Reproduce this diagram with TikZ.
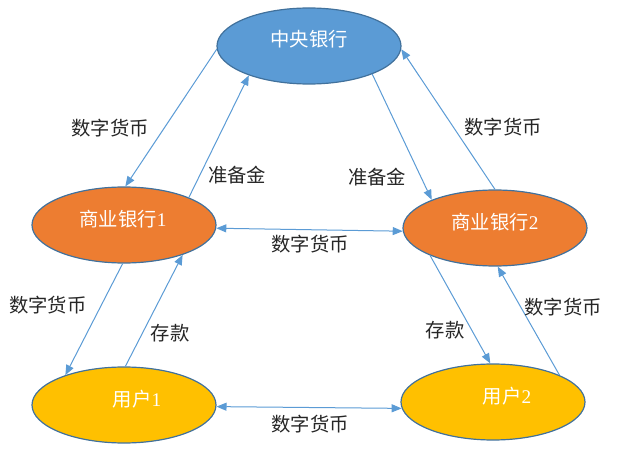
\documentclass[tikz,border=0pt]{standalone}
\usepackage{fontspec}
\setmainfont{Noto Sans CJK SC}
\newfontfamily\numfont{Liberation Serif}
\usepackage{xcolor}
\usepackage{tikz}
\usetikzlibrary{arrows.meta, shapes.geometric}

\definecolor{CentralBlue}{HTML}{5B9BD5}
\definecolor{BankOrange}{HTML}{ED7D31}
\definecolor{UserGold}{HTML}{FFC000}
\definecolor{RimBlue}{HTML}{41719C}
\definecolor{FlowBlue}{HTML}{5B9BD5}

\begin{document}
\begin{tikzpicture}[x=0.75pt, y=0.75pt,
	bank/.style={ellipse, draw=RimBlue, line width=0.9pt, minimum width=138pt, minimum height=57pt, inner sep=0pt},
	intext/.style={text=white, font=\fontsize{14.5}{17}\selectfont, inner sep=0pt},
	flowlabel/.style={text=black!85, font=\fontsize{14.5}{17}\selectfont, inner sep=0pt},
	flow/.style={draw=FlowBlue, line width=0.75pt, -{Triangle[length=7.5pt, width=6pt]}},
	twoway/.style={draw=FlowBlue, line width=0.75pt, {Triangle[length=7.5pt, width=6pt]}-{Triangle[length=7.5pt, width=6pt]}}]

	\useasboundingbox (0,0) rectangle (625,454);

	% ellipses
	\node[bank, fill=CentralBlue] (CB) at (309,408) {};
	\node[bank, fill=BankOrange] (B1) at (124,229) {};
	\node[bank, fill=BankOrange] (B2) at (495,226) {};
	\node[bank, fill=UserGold] (U1) at (124,49) {};
	\node[bank, fill=UserGold] (U2) at (493,52) {};

	\node[intext] (CBt) at (309,415) {中央银行};
	\node[intext] (B1t) at (123,235) {商业银行{\numfont 1}};
	\node[intext] (B2t) at (495,232) {商业银行{\numfont 2}};
	\node[intext] (U1t) at (137,55) {用户{\numfont 1}};
	\node[intext] (U2t) at (507,58) {用户{\numfont 2}};

	% central bank <-> commercial banks
	\draw[flow] (CB.182) -- (B1.88);
	\draw[flow] (B1.23) -- (CB.206);
	\draw[flow] (CB.336) -- (B2.156);
	\draw[flow] (B2.90) -- (CB.358);
	\draw[twoway] (B1.-2) -- (B2.182);

	% commercial banks <-> users
	\draw[flow] (B1.268) -- (U1.153);
	\draw[flow] (U1.88) -- (B1.333);
	\draw[flow] (B2.203) -- (U2.94);
	\draw[flow] (U2.22) -- (B2.274);
	\draw[twoway] (U1.-1) -- (U2.184);

	% labels
	\node[flowlabel] (l1) at (110,326) {数字货币};
	\node[flowlabel] (l2) at (237,279) {准备金};
	\node[flowlabel] (l3) at (503,327) {数字货币};
	\node[flowlabel] (l4) at (377,277) {准备金};
	\node[flowlabel] (l5) at (310,210) {数字货币};
	\node[flowlabel] (l6) at (48,149) {数字货币};
	\node[flowlabel] (l7) at (170,121) {存款};
	\node[flowlabel] (l8) at (445,124) {存款};
	\node[flowlabel] (l9) at (563,147) {数字货币};
	\node[flowlabel] (l10) at (310,30) {数字货币};

\end{tikzpicture}
\end{document}
